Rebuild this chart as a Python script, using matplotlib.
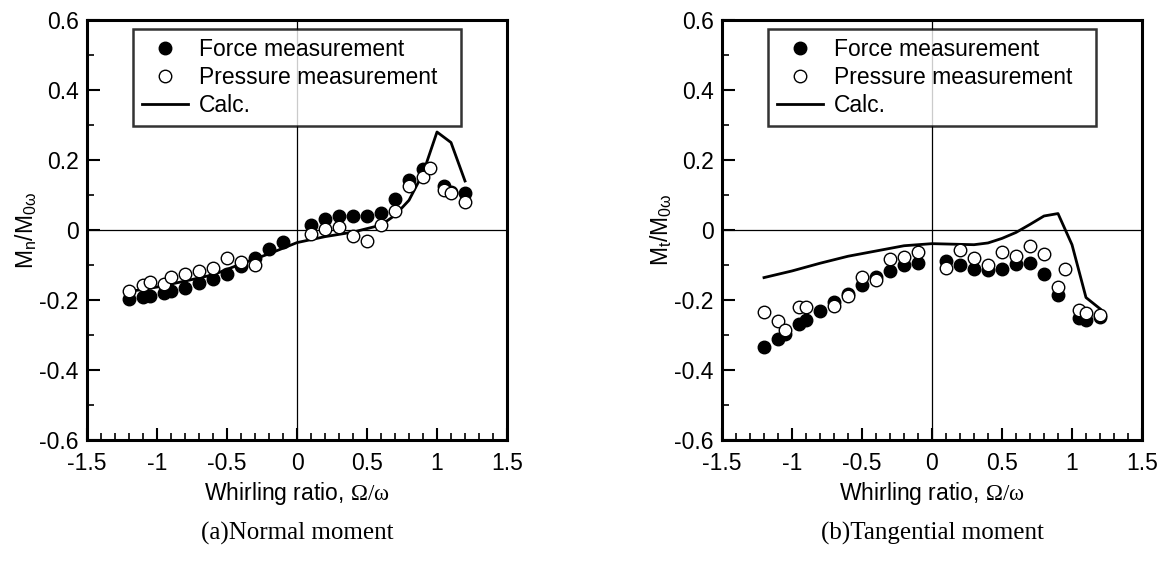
import matplotlib.pyplot as plt
from matplotlib.ticker import MultipleLocator

plt.rcParams['font.family'] = ['Liberation Sans', 'DejaVu Sans']
plt.rcParams['mathtext.fontset'] = 'custom'
plt.rcParams['mathtext.rm'] = 'Liberation Serif'
plt.rcParams['mathtext.it'] = 'Liberation Serif:italic'

# (a) normal moment
xf_n = [-1.2, -1.1, -1.05, -0.95, -0.9, -0.8, -0.7, -0.6, -0.5, -0.4, -0.3, -0.2, -0.1,
        0.1, 0.2, 0.3, 0.4, 0.5, 0.6, 0.7, 0.8, 0.9, 1.05, 1.1, 1.2]
yf_n = [-0.197, -0.192, -0.189, -0.179, -0.175, -0.167, -0.152, -0.139, -0.125, -0.102, -0.081, -0.054, -0.035,
        0.014, 0.031, 0.039, 0.039, 0.039, 0.048, 0.089, 0.143, 0.174, 0.127, 0.110, 0.107]
xp_n = [-1.2, -1.1, -1.05, -0.95, -0.9, -0.8, -0.7, -0.6, -0.5, -0.4, -0.3,
        0.1, 0.2, 0.3, 0.4, 0.5, 0.6, 0.7, 0.8, 0.9, 0.95, 1.05, 1.1, 1.2]
yp_n = [-0.174, -0.157, -0.149, -0.154, -0.135, -0.126, -0.117, -0.108, -0.079, -0.092, -0.100,
        -0.011, 0.002, 0.008, -0.017, -0.030, 0.013, 0.055, 0.127, 0.152, 0.178, 0.114, 0.107, 0.081]
xc_n = [-1.2, -1.0, -0.8, -0.6, -0.4, -0.2, 0.0, 0.2, 0.4, 0.6, 0.7, 0.8, 0.9, 1.0, 1.1, 1.2]
yc_n = [-0.176, -0.163, -0.146, -0.128, -0.097, -0.068, -0.036, -0.019, -0.006, 0.014, 0.042, 0.085,
        0.162, 0.280, 0.250, 0.140]

# (b) tangential moment
xf_t = [-1.2, -1.1, -1.05, -0.95, -0.9, -0.8, -0.7, -0.6, -0.5, -0.4, -0.3, -0.2, -0.1,
        0.1, 0.2, 0.3, 0.4, 0.5, 0.6, 0.7, 0.8, 0.9, 1.05, 1.1, 1.2]
yf_t = [-0.335, -0.310, -0.296, -0.269, -0.258, -0.232, -0.206, -0.183, -0.157, -0.134, -0.116, -0.101, -0.094,
        -0.089, -0.101, -0.110, -0.115, -0.112, -0.098, -0.093, -0.125, -0.185, -0.252, -0.257, -0.249]
xp_t = [-1.2, -1.1, -1.05, -0.95, -0.9, -0.7, -0.6, -0.5, -0.4, -0.3, -0.2, -0.1,
        0.1, 0.2, 0.3, 0.4, 0.5, 0.6, 0.7, 0.8, 0.9, 0.95, 1.05, 1.1, 1.2]
yp_t = [-0.233, -0.260, -0.287, -0.219, -0.221, -0.217, -0.189, -0.134, -0.143, -0.084, -0.076, -0.063,
        -0.109, -0.057, -0.081, -0.100, -0.064, -0.075, -0.045, -0.068, -0.163, -0.112, -0.229, -0.238, -0.243]
xc_t = [-1.2, -1.0, -0.8, -0.6, -0.4, -0.2, 0.0, 0.3, 0.4, 0.5, 0.6, 0.7, 0.8, 0.9, 1.0, 1.1, 1.2]
yc_t = [-0.136, -0.117, -0.095, -0.075, -0.060, -0.045, -0.039, -0.042, -0.037, -0.024, -0.007, 0.016,
        0.040, 0.047, -0.042, -0.193, -0.225]

xticks = [-1.5, -1, -0.5, 0, 0.5, 1, 1.5]
xticklabels = ['-1.5', '-1', '-0.5', '0', '0.5', '1', '1.5']
yticks = [-0.6, -0.4, -0.2, 0, 0.2, 0.4, 0.6]
yticklabels = ['-0.6', '-0.4', '-0.2', '0', '0.2', '0.4', '0.6']

panels = [
    (xf_n, yf_n, xp_n, yp_n, xc_n, yc_n, r'M$_{\mathregular{n}}$/M$_{\mathregular{0\omega}}$', '(a)Normal moment'),
    (xf_t, yf_t, xp_t, yp_t, xc_t, yc_t, r'M$_{\mathregular{t}}$/M$_{\mathregular{0\omega}}$', '(b)Tangential moment'),
]

fig = plt.figure(figsize=(11.63, 5.63), dpi=100, facecolor='white')
lefts = [87 / 1163, 722 / 1163]
fs = 16.5

for left, (xf, yf, xp, yp, xc, yc, ylab, cap) in zip(lefts, panels):
    ax = fig.add_axes([left, 1 - 440 / 563, 420 / 1163, 420 / 563])
    ax.axhline(0, color='black', lw=0.9, zorder=1)
    ax.axvline(0, color='black', lw=0.9, zorder=1)
    ax.plot(xf, yf, 'o', color='black', ms=9, ls='none', label='Force measurement', zorder=3)
    ax.plot(xp, yp, 'o', mfc='white', mec='black', mew=1.0, ms=9, ls='none',
            label='Pressure measurement', zorder=3)
    ax.plot(xc, yc, '-', color='black', lw=2.0, label='Calc.', zorder=2)
    ax.set_xlim(-1.5, 1.5)
    ax.set_ylim(-0.6, 0.6)
    ax.set_xticks(xticks)
    ax.set_xticklabels(xticklabels)
    ax.set_yticks(yticks)
    ax.set_yticklabels(yticklabels)
    ax.xaxis.set_minor_locator(MultipleLocator(0.1))
    ax.yaxis.set_minor_locator(MultipleLocator(0.1))
    ax.tick_params(which='major', direction='in', length=9, width=1.5, labelsize=fs)
    ax.tick_params(axis='x', which='major', pad=9)
    ax.tick_params(axis='y', which='major', pad=6)
    ax.tick_params(which='minor', direction='in', length=5, width=1.2)
    for s in ax.spines.values():
        s.set_linewidth(2.2)
    ax.set_xlabel(r'Whirling ratio, $\mathrm{\Omega/\omega}$', fontsize=fs, labelpad=3)
    ax.set_ylabel(ylab, fontsize=fs, labelpad=0)
    leg = ax.legend(loc='upper left', bbox_to_anchor=(0.11, 0.978, 0.78, 0.0), mode='expand',
                    fontsize=fs, frameon=True, fancybox=False, edgecolor='black',
                    handlelength=2.0, handletextpad=0.5, borderpad=0.38, labelspacing=0.22,
                    borderaxespad=0.0)
    leg.get_frame().set_linewidth(1.8)
    leg.set_zorder(5)
    fig.text(left + 210 / 1163, 1 - 533 / 563, cap, ha='center', va='center',
             fontsize=18, family='Liberation Serif')

fig.savefig('out.png', dpi=100, facecolor='white')
